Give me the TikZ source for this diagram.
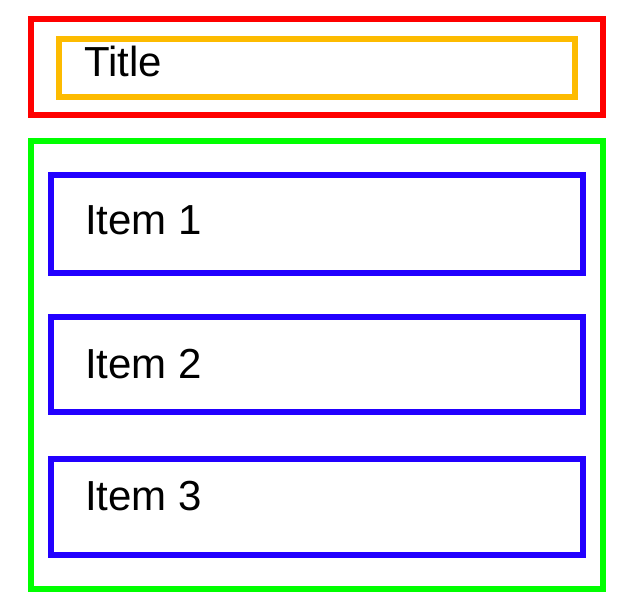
\documentclass[tikz,border=0pt]{standalone}
\usepackage{fontspec}
\setmainfont{Liberation Sans}
\definecolor{redbox}{HTML}{FF0000}
\definecolor{orangebox}{HTML}{FDBB00}
\definecolor{greenbox}{HTML}{00FF00}
\definecolor{bluebox}{HTML}{2200FF}
\tikzset{
  frame/.style={line width=6pt, line join=miter},
  label/.style={anchor=base west, inner sep=0pt, font=\fontsize{42}{42}\selectfont, text=black}
}
\begin{document}
\begin{tikzpicture}[x=1pt,y=-1pt]
\useasboundingbox (0,0) rectangle (618,602);
\draw[frame, draw=redbox] (31,19) rectangle (603,115);
\draw[frame, draw=orangebox] (59,39) rectangle (575,97);
\draw[frame, draw=greenbox] (31,141) rectangle (603,589);
\draw[frame, draw=bluebox] (51,175) rectangle (583,273);
\draw[frame, draw=bluebox] (51,317) rectangle (583,412);
\draw[frame, draw=bluebox] (51,459) rectangle (583,555);
\node[label] (title) at (84,76) {Title};
\node[label] (item1) at (85,234) {Item 1};
\node[label] (item2) at (85,378) {Item 2};
\node[label] (item3) at (85,510) {Item 3};
\end{tikzpicture}
\end{document}
